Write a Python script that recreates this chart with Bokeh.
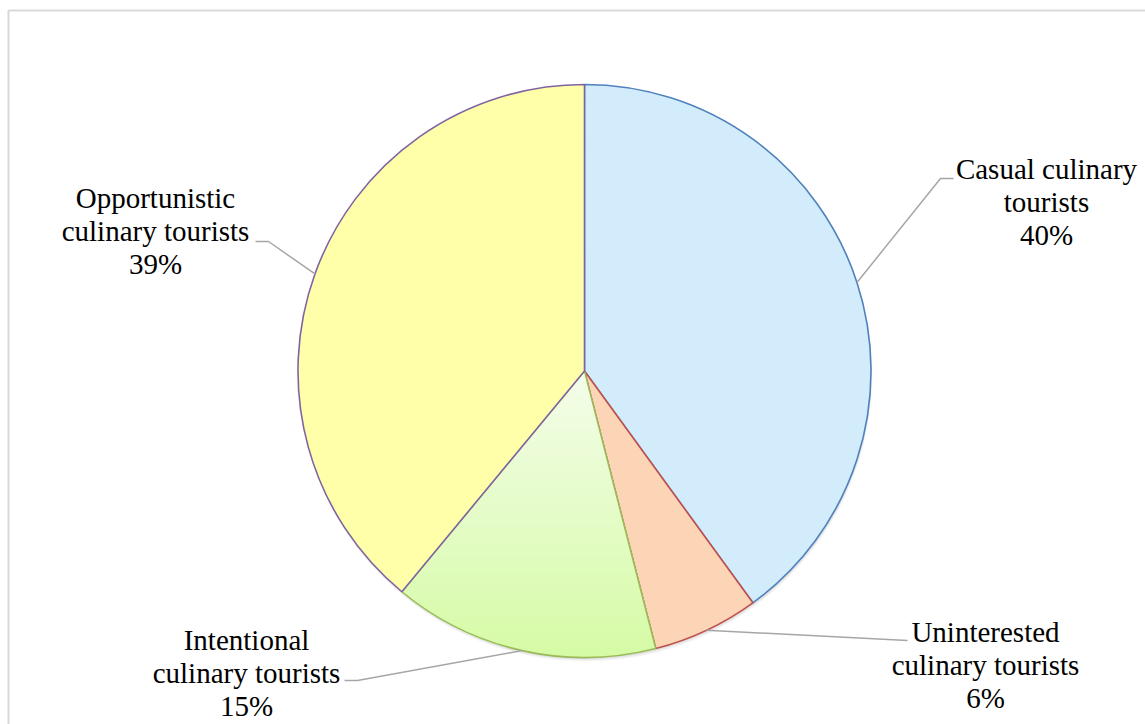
import numpy as np
from bokeh.plotting import figure
from bokeh.models import Range1d
from bokeh.core.properties import value
from bokeh.embed import file_html
from bokeh.resources import INLINE

# Segment data (clockwise from 12 o'clock)
segments = ["Casual culinary tourists", "Uninterested culinary tourists",
            "Intentional culinary tourists", "Opportunistic culinary tourists"]
shares = [40, 6, 15, 39]
label_lines = [["Casual culinary", "tourists"],
               ["Uninterested", "culinary tourists"],
               ["Intentional", "culinary tourists"],
               ["Opportunistic", "culinary tourists"]]

fills = ["#d3ecfb", "#fbd5b6", None, "#ffffaa"]
borders = ["#4f81bd", "#c0504d", "#9bbb59", "#8064a2"]
grad_top, grad_bottom = (243, 253, 233), (214, 251, 166)

W, H = 1145, 724
CX, CY, R = 584, H - 370.5, 286.5

# label layout: (center x, first baseline in px from top), leader elbow & end in px
label_pos = [(1046, 168), (985, 631), (246, 639), (155, 197)]
leader_pts = [((940, 178), (953, 178)),
              ((907, 640), (907, 640)),
              ((357, 680), (344, 680)),
              ((268, 241), (255, 241))]
LINE_GAP = 33

p = figure(width=W, height=H, output_backend="svg", toolbar_location=None,
           x_range=Range1d(0, W), y_range=Range1d(0, H),
           x_axis_location=None, y_axis_location=None, min_border=0)
p.outline_line_color = None
p.grid.visible = False
p.background_fill_color = "white"
p.border_fill_color = "white"

# chart area frame
p.quad(left=[8], right=[W + 20], top=[H - 10], bottom=[-20],
       fill_color=None, line_color="#d9d9d9", line_width=2)

# soft drop shadow under the pie
for off, a in [(4, 0.06), (3, 0.08), (2, 0.1)]:
    p.circle(x=[CX + off * 0.3], y=[CY - off], radius=R, fill_color="#7f7f7f",
             fill_alpha=a, line_color=None)

frac = np.array(shares, dtype=float) / sum(shares)
ends = np.pi / 2 - 2 * np.pi * np.cumsum(frac)
starts = np.concatenate([[np.pi / 2], ends[:-1]])
mids = (starts + ends) / 2


def clip_below(poly, ylim):
    """Keep the part of a convex polygon with y <= ylim."""
    out = []
    n = len(poly)
    for i in range(n):
        (x1, y1), (x2, y2) = poly[i], poly[(i + 1) % n]
        in1, in2 = y1 <= ylim, y2 <= ylim
        if in1:
            out.append((x1, y1))
        if in1 != in2:
            t = (ylim - y1) / (y2 - y1)
            out.append((x1 + t * (x2 - x1), ylim))
    return out


for i in range(len(shares)):
    if fills[i] is None:
        # vertical gradient fill built from stacked clipped bands
        ang = np.linspace(starts[i], ends[i], 200)
        poly = [(CX, CY)] + [(CX + R * np.cos(a), CY + R * np.sin(a)) for a in ang]
        ymin = min(pt[1] for pt in poly)
        nb = 60
        xs, ys, cols = [], [], []
        for k in range(nb):
            ylim = CY - (CY - ymin) * k / nb
            part = clip_below(poly, ylim)
            if len(part) < 3:
                continue
            t = k / (nb - 1)
            c = tuple(int(round(grad_top[j] + (grad_bottom[j] - grad_top[j]) * t)) for j in range(3))
            xs.append([pt[0] for pt in part])
            ys.append([pt[1] for pt in part])
            cols.append("#%02x%02x%02x" % c)
        p.patches(xs=xs, ys=ys, fill_color=cols, line_color=None)
        p.wedge(x=[CX], y=[CY], radius=R, start_angle=starts[i], end_angle=ends[i],
                direction="clock", fill_color=None, line_color=borders[i], line_width=1.6)
    else:
        p.wedge(x=[CX], y=[CY], radius=R, start_angle=starts[i], end_angle=ends[i],
                direction="clock", fill_color=fills[i], line_color=borders[i], line_width=1.6)

# leader lines from each segment's mid-angle on the rim
for i in range(len(shares)):
    sx, sy = CX + R * np.cos(mids[i]), CY + R * np.sin(mids[i])
    (ex, ey), (tx, ty) = leader_pts[i]
    p.line(x=[sx, ex, tx], y=[sy, H - ey, H - ty], line_color="#a6a6a6", line_width=1.5)

# data labels
tx_, ty_, tt_ = [], [], []
for i in range(len(shares)):
    lx, ly = label_pos[i]
    lines = label_lines[i] + [f"{shares[i]}%"]
    for j, s in enumerate(lines):
        tx_.append(lx)
        ty_.append(H - (ly + j * LINE_GAP))
        tt_.append(s)
p.text(x=tx_, y=ty_, text=tt_, text_font=value("Liberation Serif"),
       text_font_size="29px", text_align="center", text_baseline="alphabetic",
       text_color="#000000")

open("out.html", "w").write(file_html(p, INLINE))
